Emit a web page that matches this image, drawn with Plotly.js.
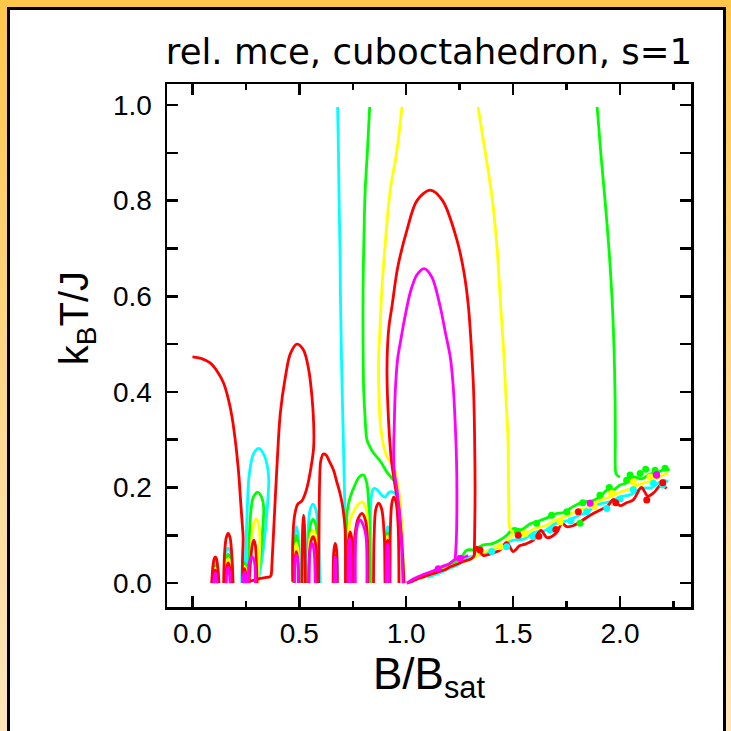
<!DOCTYPE html>
<html>
<head>
<meta charset="utf-8">
<script src="https://cdn.plot.ly/plotly-3.0.1.min.js"></script>
<style>
  html, body { margin:0; padding:0; background:#fff; }
  #frame { position:absolute; left:0; top:0; width:731px; height:731px;
           background:linear-gradient(to bottom, #FFC64C 0%, #FFD88E 55%, #FFE6BC 100%); overflow:hidden; }
  #inner { position:absolute; left:7px; top:7px; width:713px; height:740px; background:#fff;
           border-left:3px solid #000; border-top:3px solid #000; border-right:3px solid #000; }
  #plot { position:absolute; left:0; top:0; width:731px; height:731px; }
</style>
</head>
<body>
<div id="frame"><div id="inner"></div></div>
<div id="plot"></div>
<script>
// ---------------- data (x = B/Bsat, y = kB T / J) ----------------
// RED isentropes
const rA_x = [0.0,0.04,0.084,0.12,0.146,0.168,0.185,0.2,0.209,0.218,0.224,0.232,0.237,0.24,0.26,0.29,0.318,0.345,0.362,0.368,0.372,0.38,0.396,0.411,0.435,0.458,0.489,0.52,0.544,0.559,0.567,0.567,0.555,0.533,0.512,0.492,0.477,0.469,0.469];
const rA_y = [0.473,0.47,0.46,0.44,0.418,0.385,0.348,0.3,0.264,0.22,0.18,0.13,0.097,0.006,0.004,0.006,0.01,0.012,0.013,0.017,0.041,0.111,0.25,0.355,0.432,0.48,0.5,0.487,0.446,0.39,0.334,0.285,0.243,0.195,0.172,0.165,0.139,0.083,0.003];
const rB_x = [0.59,0.592,0.595,0.6,0.612,0.625,0.64,0.66,0.675,0.69,0.7,0.707,0.713,0.715,0.716];
const rB_y = [0.0,0.1,0.215,0.255,0.27,0.268,0.255,0.236,0.212,0.188,0.167,0.146,0.12,0.104,0.0];
const rSpike_x = [0.512,0.516,0.52,0.524,0.528], rSpike_y = [0,0.12,0.142,0.12,0];
const rF1o_x = [0.09,0.095,0.101,0.107,0.113,0.119,0.124], rF1o_y = [0,0.03,0.05,0.055,0.05,0.03,0];
const rF1i_x = [0.098,0.101,0.107,0.113,0.116], rF1i_y = [0,0.02,0.027,0.02,0];
const rF2o_x = [0.146,0.15,0.158,0.167,0.176,0.184,0.19], rF2o_y = [0,0.06,0.095,0.104,0.095,0.06,0];
const rF2i_x = [0.155,0.16,0.167,0.174,0.179], rF2i_y = [0,0.032,0.042,0.032,0];
const rF3_x = [0.235,0.238,0.243,0.248,0.251], rF3_y = [0,0.024,0.03,0.024,0];
const rF4_x = [0.265,0.271,0.28,0.287,0.294,0.299,0.302], rF4_y = [0,0.042,0.08,0.09,0.08,0.042,0];
const rF5a_x = [0.476,0.479,0.486,0.493,0.497], rF5a_y = [0,0.05,0.066,0.05,0];
const rF5b_x = [0.543,0.548,0.556,0.564,0.572,0.58,0.585], rF5b_y = [0,0.065,0.09,0.097,0.09,0.065,0];
const rF6o_x = [0.658,0.662,0.668,0.674,0.678], rF6o_y = [0,0.07,0.083,0.07,0];
const rF6i_x = [0.662,0.665,0.668,0.671,0.674], rF6i_y = [0,0.05,0.058,0.05,0];
const rF7_x = [0.727,0.73,0.738,0.746,0.75], rF7_y = [0,0.09,0.107,0.09,0];
const rF8_x = [0.755,0.76,0.775,0.793,0.81,0.82,0.822], rF8_y = [0,0.1,0.135,0.146,0.13,0.08,0];
const rF9_x = [0.847,0.85,0.858,0.871,0.885,0.897,0.902], rF9_y = [0,0.1,0.155,0.167,0.155,0.1,0];
const rF10_x = [0.904,0.907,0.913,0.919,0.922], rF10_y = [0,0.075,0.09,0.075,0];
const rF11_x = [0.922,0.925,0.932,0.941,0.952,0.962,0.966], rF11_y = [0,0.1,0.165,0.18,0.17,0.12,0];
const rArch_x = [0.99,0.98,0.965,0.949,0.93,0.918,0.91,0.913,0.92,0.933,0.96,1.003,1.05,1.112,1.17,1.237,1.27,1.291,1.305,1.315,1.32,1.322,1.32,1.318];
const rArch_y = [0.0,0.08,0.16,0.2,0.26,0.334,0.439,0.5,0.54,0.578,0.66,0.738,0.8,0.822,0.8,0.718,0.65,0.578,0.49,0.404,0.3,0.195,0.1,0.06];
const rBand_x = [1.003,1.03,1.06,1.1,1.14,1.18,1.206,1.24,1.27,1.3,1.315,1.33,1.36,1.4,1.439,1.47,1.5,1.53,1.56,1.595,1.63,1.66,1.7,1.73,1.751,1.78,1.82,1.86,1.907,1.94,1.97,2.0,2.03,2.062,2.1,2.13,2.16,2.19,2.218];
const rBand_y = [0.0,0.004,0.01,0.016,0.022,0.028,0.034,0.04,0.046,0.05,0.055,0.075,0.058,0.062,0.069,0.085,0.066,0.078,0.082,0.09,0.11,0.095,0.104,0.125,0.118,0.12,0.13,0.142,0.153,0.16,0.175,0.162,0.168,0.174,0.2,0.182,0.19,0.205,0.198];
const rDots_x = [1.345,1.524,1.805,2.171,2.125,1.62,1.7,1.98,2.2], rDots_y = [0.069,0.1,0.149,0.226,0.174,0.098,0.112,0.168,0.21];

// MAGENTA isentropes
const mArch_x = [0.985,0.978,0.967,0.957,0.945,0.941,0.944,0.949,0.96,0.975,0.988,1.02,1.05,1.084,1.12,1.159,1.185,1.206,1.22,1.229,1.235,1.237,1.235,1.229];
const mArch_y = [0.0,0.08,0.15,0.195,0.23,0.264,0.33,0.404,0.47,0.51,0.543,0.61,0.645,0.658,0.64,0.578,0.52,0.473,0.41,0.334,0.26,0.195,0.1,0.048];
const mBand_x = [1.003,1.04,1.08,1.128,1.17,1.2,1.229,1.26,1.29], mBand_y = [0.0,0.01,0.018,0.026,0.035,0.04,0.05,0.052,0.058];
const mF1_x = [0.1,0.103,0.107,0.111,0.114], mF1_y = [0,0.018,0.022,0.018,0];
const mF2_x = [0.158,0.162,0.167,0.172,0.176], mF2_y = [0,0.026,0.033,0.026,0];
const mF3_x = [0.237,0.24,0.244,0.248,0.251], mF3_y = [0,0.018,0.023,0.018,0];
const mF4_x = [0.263,0.267,0.279,0.29,0.294], mF4_y = [0,0.045,0.055,0.045,0];
const mF5a_x = [0.477,0.48,0.486,0.492,0.495], mF5a_y = [0,0.048,0.059,0.048,0];
const mF5b_x = [0.546,0.55,0.559,0.568,0.574], mF5b_y = [0,0.07,0.083,0.07,0];
const mF6_x = [0.663,0.665,0.668,0.671,0.673], mF6_y = [0,0.045,0.055,0.045,0];
const mF7_x = [0.728,0.731,0.735,0.739,0.742], mF7_y = [0,0.08,0.093,0.08,0];
const mF8_x = [0.762,0.765,0.775,0.785,0.8,0.812,0.816], mF8_y = [0,0.1,0.126,0.132,0.12,0.097,0];
const mF10_x = [0.906,0.909,0.913,0.917,0.92], mF10_y = [0,0.07,0.083,0.07,0];
const mDots_x = [1.252,1.86,2.171,1.15], mDots_y = [0.052,0.167,0.226,0.03];

// YELLOW isentropes
const yLeft_x = [0.98,0.955,0.925,0.9,0.886,0.877,0.871,0.872,0.879,0.893,0.91,0.941,0.957,0.97,0.98,0.988];
const yLeft_y = [0.996,0.9,0.822,0.7,0.613,0.53,0.473,0.4,0.334,0.29,0.264,0.243,0.215,0.17,0.1,0.0];
const yRight_x = [1.336,1.37,1.402,1.425,1.44,1.455,1.467,1.476,1.478,1.48,1.483,1.495,1.509];
const yRight_y = [0.996,0.9,0.805,0.7,0.592,0.49,0.383,0.3,0.22,0.16,0.118,0.108,0.104];
const yBand_x = [1.05,1.1,1.15,1.2,1.25,1.3,1.35,1.4,1.45,1.509,1.55,1.6,1.65,1.7,1.75,1.8,1.85,1.9,1.95,2.0,2.05,2.1,2.15,2.2,2.225];
const yBand_y = [0.008,0.016,0.024,0.033,0.042,0.05,0.062,0.072,0.08,0.104,0.1,0.114,0.12,0.132,0.14,0.152,0.158,0.172,0.18,0.19,0.198,0.208,0.214,0.226,0.23];
const yF1_x = [0.097,0.1,0.107,0.114,0.117], yF1_y = [0,0.025,0.031,0.025,0];
const yF2_x = [0.153,0.158,0.167,0.176,0.18], yF2_y = [0,0.042,0.05,0.042,0];
const yF3_x = [0.234,0.237,0.243,0.249,0.252], yF3_y = [0,0.029,0.035,0.029,0];
const yF4_x = [0.268,0.271,0.279,0.29,0.299,0.309,0.315,0.312,0.305], yF4_y = [0,0.03,0.097,0.128,0.135,0.125,0.097,0.05,0];
const yF5a_x = [0.475,0.478,0.486,0.494,0.498], yF5a_y = [0,0.065,0.083,0.065,0];
const yF5b_x = [0.541,0.546,0.555,0.564,0.573,0.582,0.588], yF5b_y = [0,0.08,0.104,0.111,0.104,0.08,0];
const yF6_x = [0.661,0.664,0.668,0.672,0.675], yF6_y = [0,0.052,0.062,0.052,0];
const yF8_x = [0.725,0.728,0.738,0.755,0.775,0.793,0.808,0.816,0.82,0.824], yF8_y = [0,0.08,0.132,0.15,0.165,0.17,0.162,0.146,0.08,0.0];
const yF10_x = [0.903,0.906,0.913,0.92,0.923], yF10_y = [0,0.08,0.098,0.08,0];
const yDots_x = [1.439,1.961,2.062,1.556,1.72,1.88,2.14], yDots_y = [0.076,0.188,0.212,0.104,0.128,0.16,0.222];

// GREEN isentropes
const gLeft_x = [0.829,0.818,0.808,0.802,0.798,0.798,0.801,0.807,0.816,0.83,0.847,0.879,0.91,0.94,0.957,0.97,0.98,0.988];
const gLeft_y = [0.996,0.9,0.822,0.72,0.613,0.5,0.404,0.35,0.3,0.285,0.272,0.255,0.232,0.216,0.205,0.17,0.1,0.0];
const gRight_x = [1.893,1.91,1.93,1.948,1.963,1.972,1.977,1.978,1.981,1.99,2.0];
const gRight_y = [0.996,0.9,0.8,0.7,0.592,0.49,0.383,0.3,0.229,0.224,0.222];
const gBand_x = [1.05,1.1,1.15,1.2,1.25,1.284,1.32,1.36,1.4,1.439,1.47,1.501,1.54,1.58,1.62,1.673,1.7,1.74,1.78,1.829,1.87,1.91,1.94,1.969,2.0,2.03,2.062,2.1,2.14,2.18,2.218,2.23];
const gBand_y = [0.01,0.018,0.028,0.038,0.05,0.069,0.07,0.08,0.082,0.09,0.1,0.114,0.112,0.124,0.13,0.139,0.145,0.148,0.16,0.17,0.172,0.182,0.195,0.195,0.205,0.21,0.222,0.218,0.228,0.232,0.24,0.235];
const gF1_x = [0.095,0.099,0.107,0.115,0.119], gF1_y = [0,0.03,0.037,0.03,0];
const gF2_x = [0.151,0.156,0.167,0.178,0.182], gF2_y = [0,0.05,0.06,0.05,0];
const gF3_x = [0.233,0.236,0.243,0.25,0.253], gF3_y = [0,0.036,0.043,0.036,0];
const gF4_x = [0.262,0.263,0.271,0.285,0.307,0.325,0.333,0.33,0.318,0.302], gF4_y = [0,0.041,0.139,0.18,0.19,0.178,0.16,0.12,0.06,0.0];
const gF5a_x = [0.474,0.477,0.486,0.495,0.499], gF5a_y = [0,0.08,0.1,0.08,0];
const gF5b_x = [0.539,0.544,0.554,0.564,0.575,0.585,0.591], gF5b_y = [0,0.09,0.125,0.133,0.125,0.09,0];
const gF6_x = [0.66,0.663,0.668,0.673,0.676], gF6_y = [0,0.056,0.066,0.056,0];
const gF8_x = [0.718,0.72,0.723,0.738,0.76,0.78,0.8,0.815,0.824,0.83,0.832], gF8_y = [0,0.09,0.146,0.18,0.205,0.222,0.226,0.21,0.17,0.08,0.0];
const gF10_x = [0.902,0.905,0.913,0.921,0.924], gF10_y = [0,0.088,0.105,0.088,0];
const gDots_x = [1.826,1.906,2.047,2.094,2.164,2.211,1.751,1.68,1.61,1.813,2.031,1.52,1.95,2.12];
const gDots_y = [0.168,0.184,0.226,0.229,0.236,0.24,0.149,0.142,0.125,0.125,0.215,0.108,0.2,0.238];

// CYAN isentropes
const cVert_x = [0.679,0.683,0.686,0.69,0.692,0.696,0.698,0.704,0.71,0.715,0.718];
const cVert_y = [0.996,0.9,0.8,0.7,0.613,0.5,0.45,0.335,0.215,0.11,0.0];
const cHump_x = [0.832,0.832,0.835,0.842,0.85,0.865,0.885,0.902,0.915,0.925,0.94,0.953,0.964];
const cHump_y = [0.0,0.132,0.174,0.193,0.198,0.195,0.184,0.18,0.188,0.191,0.19,0.184,0.174];
const cBand_x = [1.1,1.15,1.2,1.25,1.3,1.35,1.4,1.45,1.5,1.55,1.6,1.65,1.7,1.75,1.8,1.85,1.9,1.95,2.0,2.05,2.1,2.15,2.2,2.225];
const cBand_y = [0.012,0.02,0.03,0.04,0.055,0.06,0.07,0.08,0.09,0.092,0.106,0.11,0.125,0.13,0.14,0.15,0.165,0.17,0.18,0.185,0.198,0.2,0.215,0.212];
const cF1_x = [0.093,0.097,0.107,0.117,0.121], cF1_y = [0,0.037,0.045,0.037,0];
const cF2_x = [0.149,0.154,0.167,0.18,0.185], cF2_y = [0,0.062,0.073,0.062,0];
const cF3_x = [0.231,0.235,0.243,0.251,0.255], cF3_y = [0,0.044,0.052,0.044,0];
const cF4_x = [0.245,0.248,0.256,0.265,0.285,0.31,0.335,0.352,0.357,0.352,0.341,0.325,0.305];
const cF4_y = [0,0.05,0.15,0.225,0.27,0.282,0.268,0.24,0.215,0.17,0.11,0.05,0.0];
const cF5a_x = [0.472,0.476,0.486,0.496,0.5], cF5a_y = [0,0.095,0.118,0.095,0];
const cF5b_x = [0.536,0.541,0.55,0.564,0.578,0.589,0.595], cF5b_y = [0,0.11,0.152,0.165,0.152,0.11,0];
const cF6_x = [0.659,0.662,0.668,0.674,0.677], cF6_y = [0,0.06,0.072,0.06,0];
const cF10_x = [0.9,0.904,0.913,0.922,0.926], cF10_y = [0,0.1,0.118,0.1,0];
const cDots_x = [1.47,1.594,1.844,1.938,2.062,2.156,1.673,1.4,1.77,2.0,2.2], cDots_y = [0.076,0.097,0.149,0.156,0.195,0.209,0.111,0.066,0.13,0.176,0.205];

// tick values
const xTickVals = [0.0,0.5,1.0,1.5,2.0];
const yTickVals = [0.0,0.2,0.4,0.6,0.8,1.0];

// ---------------- build traces ----------------
function joinSegs(segs){
  const x=[], y=[];
  segs.forEach((s,i)=>{ if(i){x.push(null);y.push(null);} x.push(...s[0]); y.push(...s[1]); });
  return {x,y};
}
function lineTrace(segs,color){
  const d = joinSegs(segs);
  return {type:'scatter',mode:'lines',x:d.x,y:d.y,connectgaps:false,
          line:{color:color,width:2.8,shape:'spline',smoothing:0.9},hoverinfo:'skip'};
}
function dotTrace(x,y,color){
  return {type:'scatter',mode:'markers',x:x,y:y,marker:{color:color,size:7,line:{width:0}},hoverinfo:'skip'};
}
const RED='#FF0000', MAG='#FF00FF', YEL='#FFFF00', GRN='#00FF00', CYN='#00FFFF';

const traces = [
  lineTrace([[cVert_x,cVert_y],[cHump_x,cHump_y],[cBand_x,cBand_y],[cF1_x,cF1_y],[cF2_x,cF2_y],[cF3_x,cF3_y],[cF4_x,cF4_y],[cF5a_x,cF5a_y],[cF5b_x,cF5b_y],[cF6_x,cF6_y],[cF10_x,cF10_y]],CYN),
  lineTrace([[gLeft_x,gLeft_y],[gRight_x,gRight_y],[gBand_x,gBand_y],[gF1_x,gF1_y],[gF2_x,gF2_y],[gF3_x,gF3_y],[gF4_x,gF4_y],[gF5a_x,gF5a_y],[gF5b_x,gF5b_y],[gF6_x,gF6_y],[gF8_x,gF8_y],[gF10_x,gF10_y]],GRN),
  lineTrace([[yLeft_x,yLeft_y],[yRight_x,yRight_y],[yBand_x,yBand_y],[yF1_x,yF1_y],[yF2_x,yF2_y],[yF3_x,yF3_y],[yF4_x,yF4_y],[yF5a_x,yF5a_y],[yF5b_x,yF5b_y],[yF6_x,yF6_y],[yF8_x,yF8_y],[yF10_x,yF10_y]],YEL),
  lineTrace([[rA_x,rA_y],[rB_x,rB_y],[rSpike_x,rSpike_y],[rF1o_x,rF1o_y],[rF1i_x,rF1i_y],[rF2o_x,rF2o_y],[rF2i_x,rF2i_y],[rF3_x,rF3_y],[rF4_x,rF4_y],[rF5a_x,rF5a_y],[rF5b_x,rF5b_y],[rF6o_x,rF6o_y],[rF6i_x,rF6i_y],[rF7_x,rF7_y],[rF8_x,rF8_y],[rF9_x,rF9_y],[rF10_x,rF10_y],[rF11_x,rF11_y],[rArch_x,rArch_y],[rBand_x,rBand_y]],RED),
  lineTrace([[mArch_x,mArch_y],[mBand_x,mBand_y],[mF1_x,mF1_y],[mF2_x,mF2_y],[mF3_x,mF3_y],[mF4_x,mF4_y],[mF5a_x,mF5a_y],[mF5b_x,mF5b_y],[mF6_x,mF6_y],[mF7_x,mF7_y],[mF8_x,mF8_y],[mF10_x,mF10_y]],MAG),
  dotTrace(cDots_x,cDots_y,CYN),
  dotTrace(gDots_x,gDots_y,GRN),
  dotTrace(yDots_x,yDots_y,YEL),
  dotTrace(rDots_x,rDots_y,RED),
  dotTrace(mDots_x,mDots_y,MAG)
];

const tickFont = {family:'Liberation Sans, Arial, sans-serif', size:28, color:'#000'};
const layout = {
  width:731, height:731,
  margin:{l:167, r:40, t:84, b:124, pad:0},
  paper_bgcolor:'rgba(0,0,0,0)', plot_bgcolor:'#fff',
  showlegend:false, hovermode:false,
  title:{text:'rel. mce, cuboctahedron, s=1', font:{family:'DejaVu Sans, sans-serif', size:35.5, color:'#000'},
         x:0.5, xref:'paper', xanchor:'center', y:0.929, yref:'container', yanchor:'middle'},
  xaxis:{range:[-0.119,2.332], tickvals:xTickVals, ticktext:xTickVals.map(v=>v.toFixed(1)),
         showline:true, linecolor:'#000', linewidth:2.5, mirror:'allticks',
         ticks:'inside', ticklen:11, tickwidth:2.5, tickcolor:'#000',
         minor:{tickvals:[0.25,0.75,1.25,1.75,2.25], ticks:'inside', ticklen:6, tickwidth:2.5, tickcolor:'#000', showgrid:false},
         showgrid:false, zeroline:false, tickfont:tickFont, ticklabelstandoff:0, automargin:false,
         title:{text:'B/B<sub>sat</sub>', font:{family:'Liberation Sans, Arial, sans-serif', size:44, color:'#000'}, standoff:8}},
  yaxis:{range:[-0.05,1.044], tickvals:yTickVals, ticktext:yTickVals.map(v=>v.toFixed(1)),
         showline:true, linecolor:'#000', linewidth:2.5, mirror:'allticks',
         ticks:'inside', ticklen:11, tickwidth:2.5, tickcolor:'#000',
         minor:{tickvals:[0.1,0.3,0.5,0.7,0.9], ticks:'inside', ticklen:11, tickwidth:2.5, tickcolor:'#000', showgrid:false},
         showgrid:false, zeroline:false, tickfont:tickFont, ticklabelstandoff:7, automargin:false},
  annotations:[
    {text:'k<sub>B</sub>T/J', textangle:-90, xref:'paper', yref:'paper', x:-0.173, y:0.553,
     xanchor:'center', yanchor:'middle', showarrow:false,
     font:{family:'Liberation Sans, Arial, sans-serif', size:40, color:'#000'}}
  ]
};
Plotly.newPlot('plot', traces, layout, {staticPlot:true, displayModeBar:false});
</script>
</body>
</html>
